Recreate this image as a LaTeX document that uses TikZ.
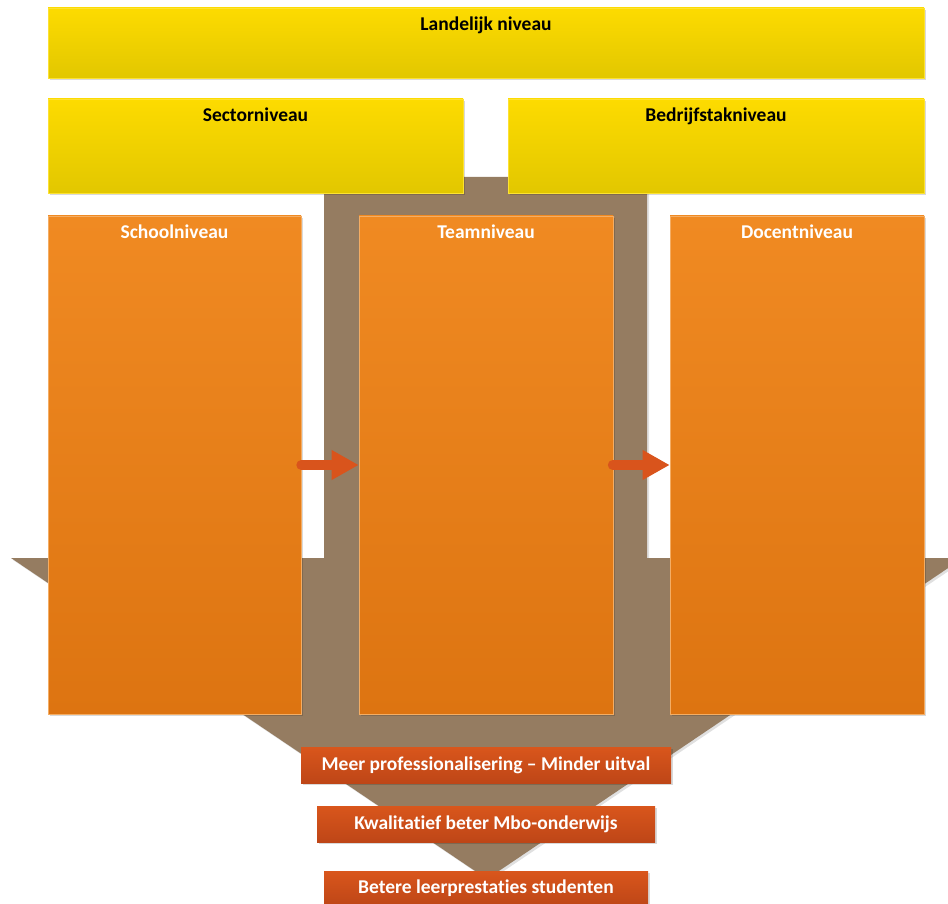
\documentclass[tikz,border=0pt]{standalone}
\usepackage{fontspec}
\setmainfont{Carlito}[Ligatures=NoCommon]
\usetikzlibrary{arrows.meta,shadows}

\definecolor{yelTop}{HTML}{FDDB00}
\definecolor{yelBot}{HTML}{E2C700}
\definecolor{orgTop}{HTML}{F08A22}
\definecolor{orgBot}{HTML}{DD7411}
\definecolor{brownArrow}{HTML}{957C61}
\definecolor{redTop}{HTML}{D9561C}
\definecolor{redBot}{HTML}{BE4617}
\definecolor{arrowRed}{HTML}{D9541C}

\begin{document}
\begin{tikzpicture}[
    x=1pt, y=-1pt,
    % Node styles
    boxshadow/.style={drop shadow={shadow xshift=2pt, shadow yshift=-2pt, opacity=0.15, fill=black}},
    levelY/.style={rectangle, draw=yelTop!80!white, line width=0.6pt, top color=yelTop, bottom color=yelBot, boxshadow, inner sep=0pt},
    levelO/.style={rectangle, draw=orgTop!70!white, line width=0.6pt, top color=orgTop, bottom color=orgBot, boxshadow, inner sep=0pt},
    result/.style={rectangle, top color=redTop, bottom color=redBot, boxshadow, inner sep=0pt,
        text=white, font=\bfseries\fontsize{19.5}{21}\selectfont},
    % Titles at the top of a box
    titleB/.style={anchor=north, inner sep=0pt, yshift=-8.5pt, text=black, font=\bfseries\fontsize{19.5}{21}\selectfont},
    titleW/.style={anchor=north, inner sep=0pt, yshift=-9pt, text=white, font=\bfseries\fontsize{19.5}{21}\selectfont},
    % Small arrows between the levels
    flowarrow/.style={line width=10pt, line cap=round, draw=arrowRed, -{Triangle[length=27pt, width=28pt]}}
]
    \useasboundingbox (0,0) rectangle (948,904);

    % =========================================================================
    % 1. BACKGROUND: BIG BROWN ARROW
    % =========================================================================
    \begin{scope}
        \clip (0,0) rectangle (948,904);
        \fill[brownArrow, drop shadow={shadow xshift=2pt, shadow yshift=-2pt, opacity=0.12, fill=black}]
            (324,177) -- (647,177) -- (647,558) -- (963,558) -- (487,879)
            -- (11,558) -- (324,558) -- cycle;
    \end{scope}

    % =========================================================================
    % 2. TOP: YELLOW LEVELS
    % =========================================================================
    \node[levelY, minimum width=876pt, minimum height=70pt,
          label={[titleB]north:Landelijk niveau}] (landelijk) at (486,43) {};
    \node[levelY, minimum width=415pt, minimum height=94pt,
          label={[titleB]north:Sectorniveau}] (sector) at (255.5,146) {};
    \node[levelY, minimum width=416pt, minimum height=94pt,
          label={[titleB]north:Bedrijfstakniveau}] (bedrijfstak) at (716,146) {};

    % =========================================================================
    % 3. CENTER: ORANGE LEVELS
    % =========================================================================
    \node[levelO, minimum width=253pt, minimum height=498pt,
          label={[titleW]north:Schoolniveau}] (school) at (174.5,465) {};
    \node[levelO, minimum width=254pt, minimum height=498pt,
          label={[titleW]north:Teamniveau}] (team) at (486,465) {};
    \node[levelO, minimum width=254pt, minimum height=498pt,
          label={[titleW]north:Docentniveau}] (docent) at (797,465) {};

    \draw[flowarrow] (school.east) -- (team.west);
    \draw[flowarrow] ([xshift=-0.5pt]team.east) -- (docent.west);

    % =========================================================================
    % 4. BOTTOM: RESULTS
    % =========================================================================
    \node[result, minimum width=370pt, minimum height=36pt] (meer) at (486,765)
        {Meer professionalisering -- Minder uitval};
    \node[result, minimum width=338pt, minimum height=36pt] (kwalitatief) at (486,824)
        {Kwalitatief beter Mbo-onderwijs};
    \node[result, minimum width=324pt, minimum height=35pt] (betere) at (486,888.5)
        {Betere leerprestaties studenten};

\end{tikzpicture}
\end{document}
